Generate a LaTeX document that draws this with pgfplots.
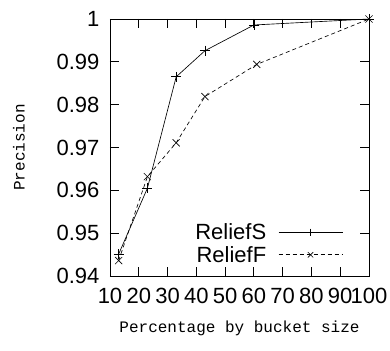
\documentclass[border=0pt]{standalone}
\usepackage{fontspec}
\setmainfont{Liberation Sans}
\newfontfamily\monofont{Liberation Mono}
\usepackage{pgfplots}
\pgfplotsset{compat=1.18}
\begin{document}
\begin{tikzpicture}
\path[use as bounding box] (-110pt,-74pt) rectangle (280pt,276pt);
\begin{axis}[
  scale only axis,
  width=259pt, height=257pt,
  xmin=10, xmax=100, ymin=0.94, ymax=1,
  xtick={10,20,...,100},
  ytick={0.94,0.95,0.96,0.97,0.98,0.99,1},
  yticklabels={0.94,0.95,0.96,0.97,0.98,0.99,1},
  tick align=inside,
  major tick length=9pt,
  axis line style={line width=0.8pt},
  every tick/.style={black, line width=0.8pt},
  /pgf/number format/assume math mode=true,
  tick label style={font=\fontsize{22}{24}\selectfont},
  xticklabel style={yshift=-9pt},
  yticklabel style={xshift=-7pt},
  xlabel={\monofont Percentage by bucket size},
  ylabel={\monofont Precision},
  label style={font=\fontsize{16}{18}\selectfont},
  xlabel style={yshift=-10pt},
  ylabel style={yshift=25pt},
  legend style={at={(0.9,0.04)}, anchor=south east, draw=none, fill=none,
    font=\fontsize{22}{22}\selectfont, legend cell align=right,
    row sep=1pt, column sep=10pt, inner sep=0pt},
  legend plot pos=right,
  legend image code/.code={\draw[#1, mark size=3.8pt, mark repeat=2, mark phase=2] plot coordinates {(0pt,0pt) (32pt,0pt) (64pt,0pt)};},
  every axis plot/.append style={line width=0.65pt},
]
\addplot[black, mark=+, mark size=5pt] coordinates {
  (13,0.9451) (23,0.9605) (33,0.9865) (43,0.9926) (60,0.9986) (100,1.0)
};
\addlegendentry{ReliefS}
\addplot[black, dash pattern=on 4pt off 3pt, mark=x, mark size=5pt, mark options={solid}] coordinates {
  (13,0.9436) (23,0.9632) (33,0.9711) (43,0.9819) (61,0.9894) (100,1.0)
};
\addlegendentry{ReliefF}
\end{axis}
\end{tikzpicture}
\end{document}
